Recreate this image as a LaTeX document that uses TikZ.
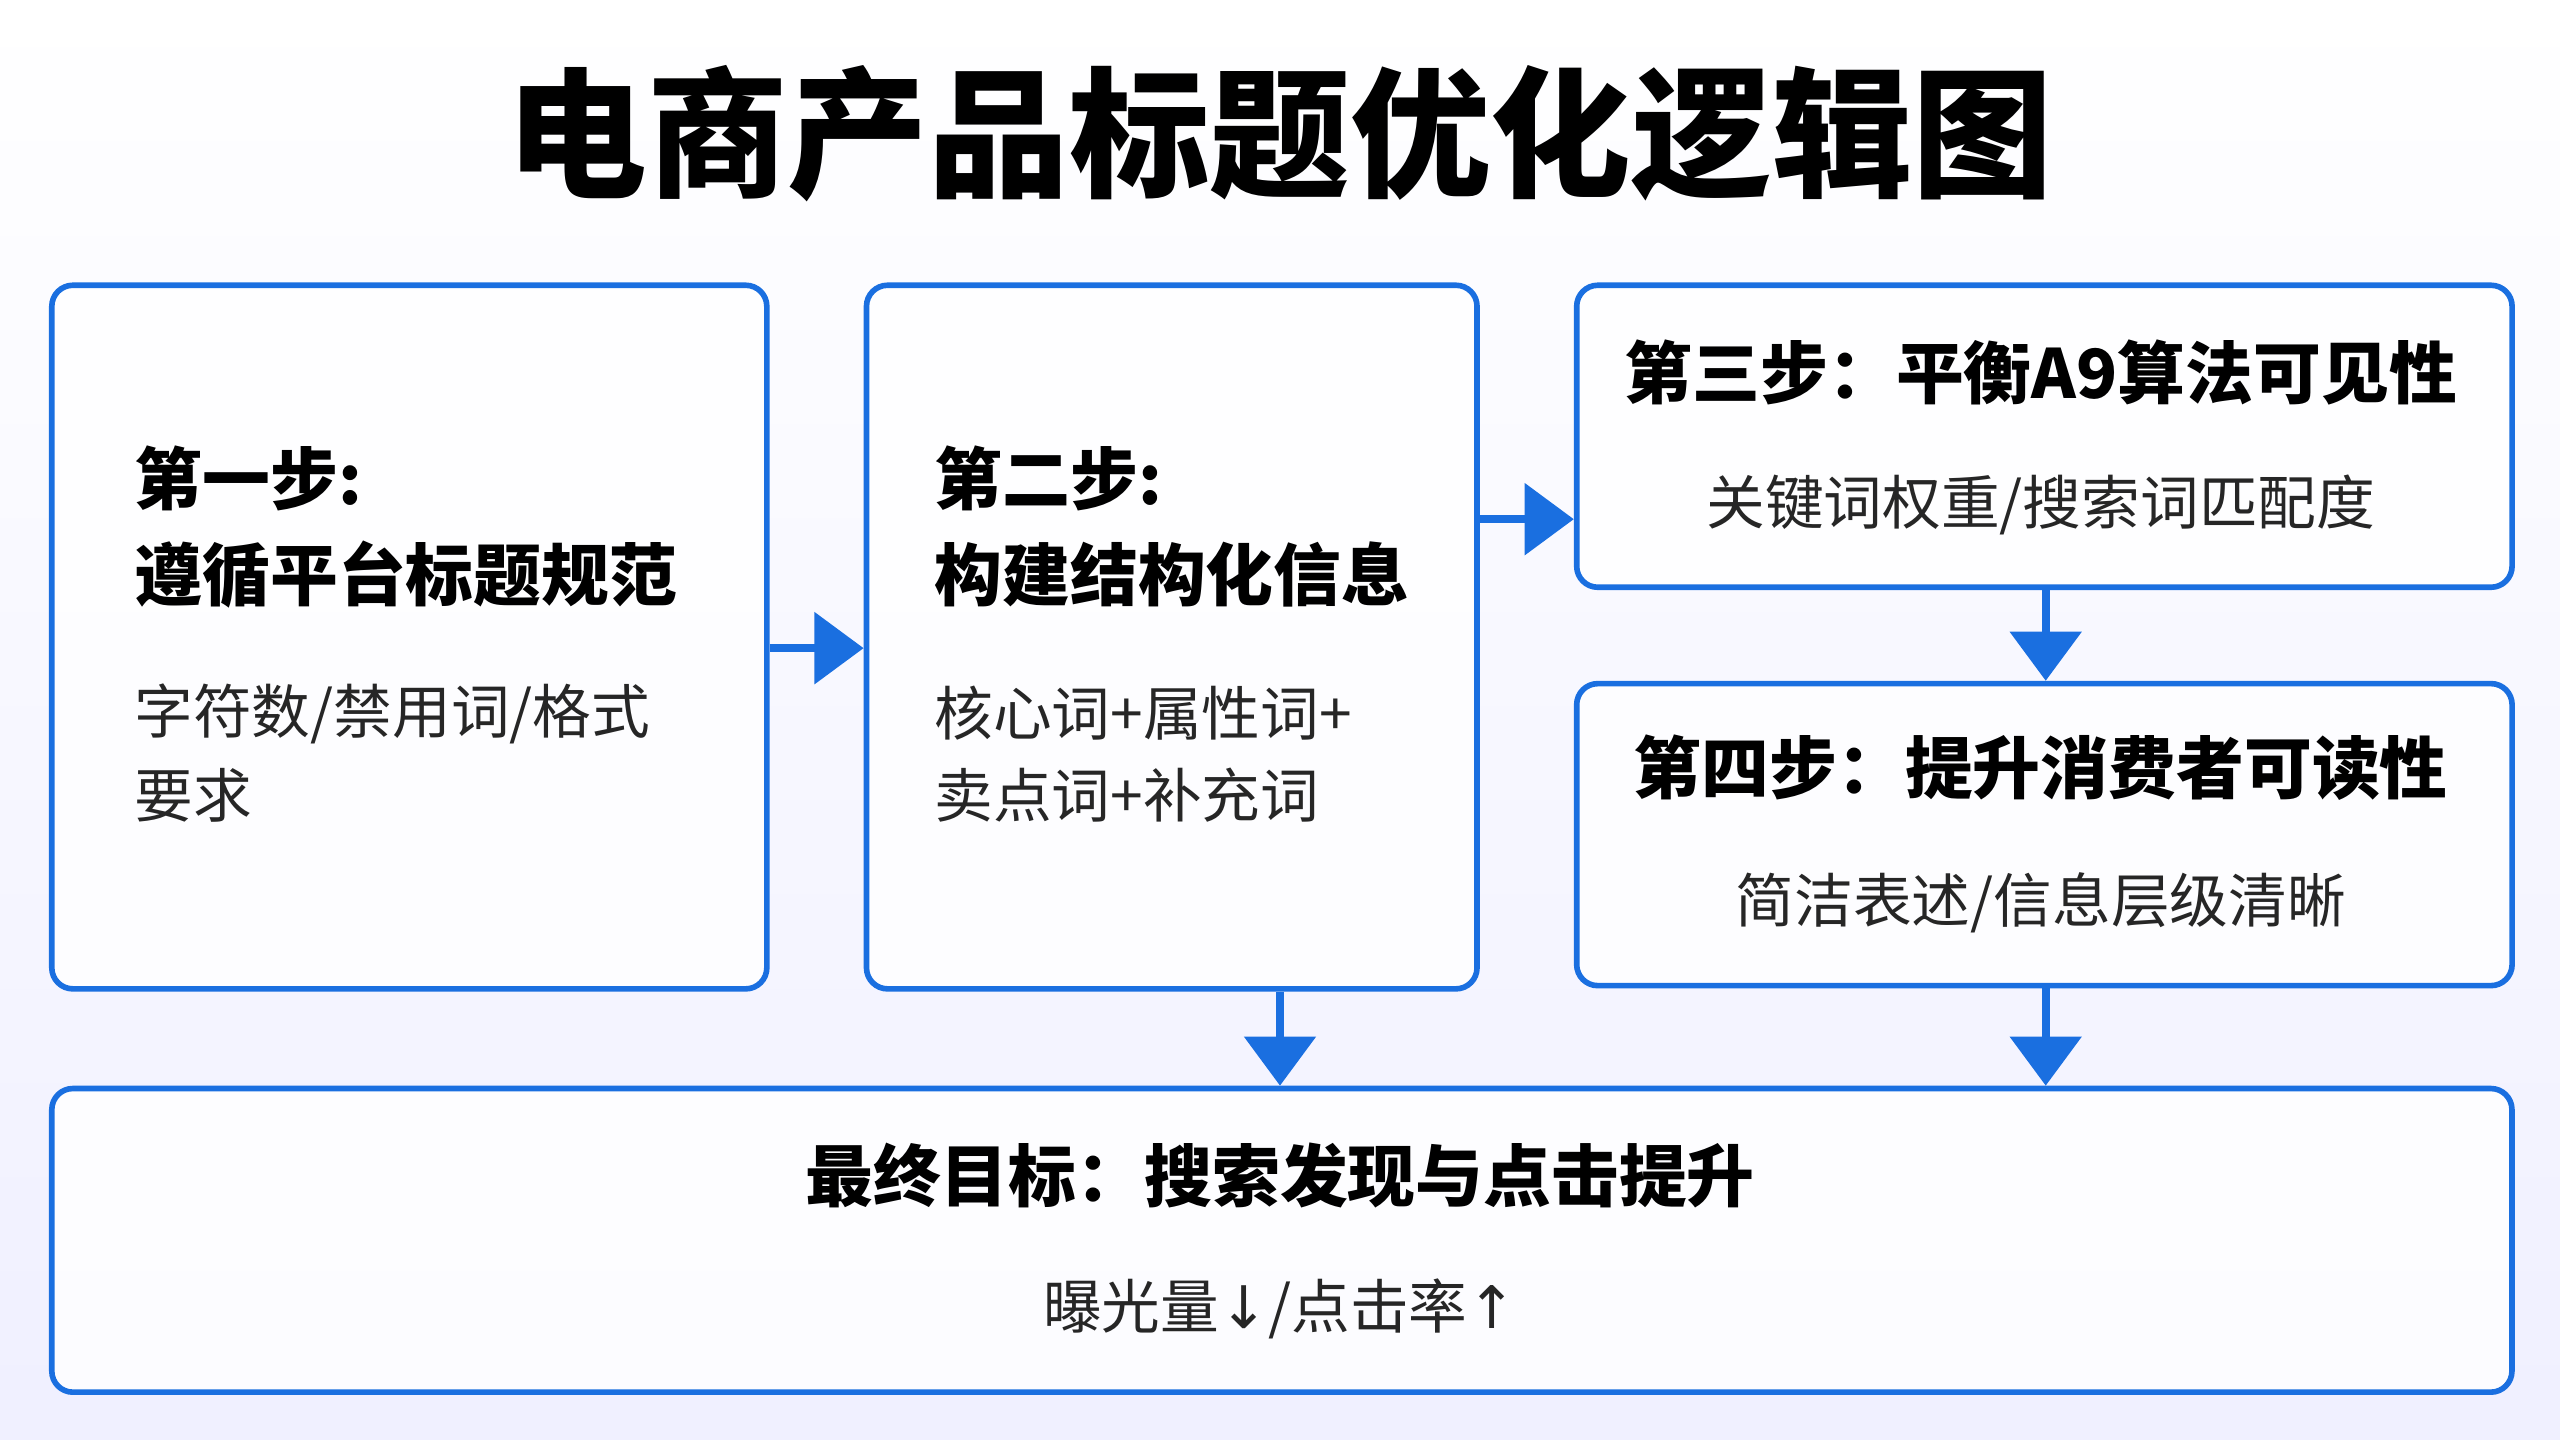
\documentclass[tikz,border=0pt]{standalone}
\usepackage{fontspec}
\setmainfont{Noto Sans CJK SC}
\newfontfamily\arr{DejaVu Sans}
\usetikzlibrary{arrows.meta}
\definecolor{bl}{HTML}{1A6FE0}
\begin{document}
\begin{tikzpicture}[x=0.016327cm,y=-0.016327cm,
 box/.style={draw=bl,line width=1.6pt,rounded corners=6pt,fill=white,fill opacity=0.85,text opacity=1,inner sep=0pt},
 con/.style={draw=bl,line width=2.4pt,-{Triangle[length=14pt,width=20pt]}},
 hd/.style={font=\bfseries\fontsize{19.3pt}{28pt}\selectfont,inner sep=0pt},
 bd/.style={font=\fontsize{16.7pt}{25pt}\selectfont,inner sep=0pt,text=black!85}]
\shade[top color=white,bottom color=blue!6] (0,0) rectangle (1568,882);
\useasboundingbox (0,0) rectangle (1568,882);
\node[font=\bfseries\fontsize{40pt}{48pt}\selectfont,inner sep=0pt] (t) at (784,82) {电商产品标题优化逻辑图};
\node[box,minimum width=438*0.4645pt,minimum height=431*0.4645pt,anchor=north west] (b1) at (30,173) {};
\node[box,minimum width=374*0.4645pt,minimum height=431*0.4645pt,anchor=north west] (b2) at (529,173) {};
\node[box,minimum width=573*0.4645pt,minimum height=185*0.4645pt,anchor=north west] (b3) at (964,173) {};
\node[box,minimum width=573*0.4645pt,minimum height=185*0.4645pt,anchor=north west] (b4) at (964,417) {};
\node[box,minimum width=1507*0.4645pt,minimum height=186*0.4645pt,anchor=north west] (b5) at (30,665) {};
\node[hd,anchor=west] (h1a) at (82,293) {第一步:};
\node[hd,anchor=west] (h1b) at (82,352) {遵循平台标题规范};
\node[bd,anchor=west] (t1a) at (82,437) {字符数/禁用词/格式};
\node[bd,anchor=west] (t1b) at (82,487) {要求};
\node[hd,anchor=west] (h2a) at (572,293) {第二步:};
\node[hd,anchor=west] (h2b) at (572,352) {构建结构化信息};
\node[bd,anchor=west] (t2a) at (572,437) {核心词+属性词+};
\node[bd,anchor=west] (t2b) at (572,487) {卖点词+补充词};
\node[hd] (h3) at (1250,228) {第三步：平衡A9算法可见性};
\node[bd] (t3) at (1250,309) {关键词权重/搜索词匹配度};
\node[hd] (h4) at (1250,470) {第四步：提升消费者可读性};
\node[bd] (t4) at (1250,553) {简洁表述/信息层级清晰};
\node[hd] (h5) at (784,720) {最终目标：搜索发现与点击提升};
\node[bd] (t5) at (784,802) {曝光量{\arr ↓}/点击率{\arr ↑}};
\coordinate (p1) at (0,397);
\coordinate (p2) at (0,318);
\coordinate (p3) at (784,0);
\coordinate (p4) at (1253,0);
\draw[con] (b1.east |- p1) -- (b2.west |- p1);
\draw[con] (b2.east |- p2) -- (b3.west |- p2);
\draw[con] (b3.south -| p4) -- (b4.north -| p4);
\draw[con] (b2.south -| p3) -- (b5.north -| p3);
\draw[con] (b4.south -| p4) -- (b5.north -| p4);
\end{tikzpicture}
\end{document}
